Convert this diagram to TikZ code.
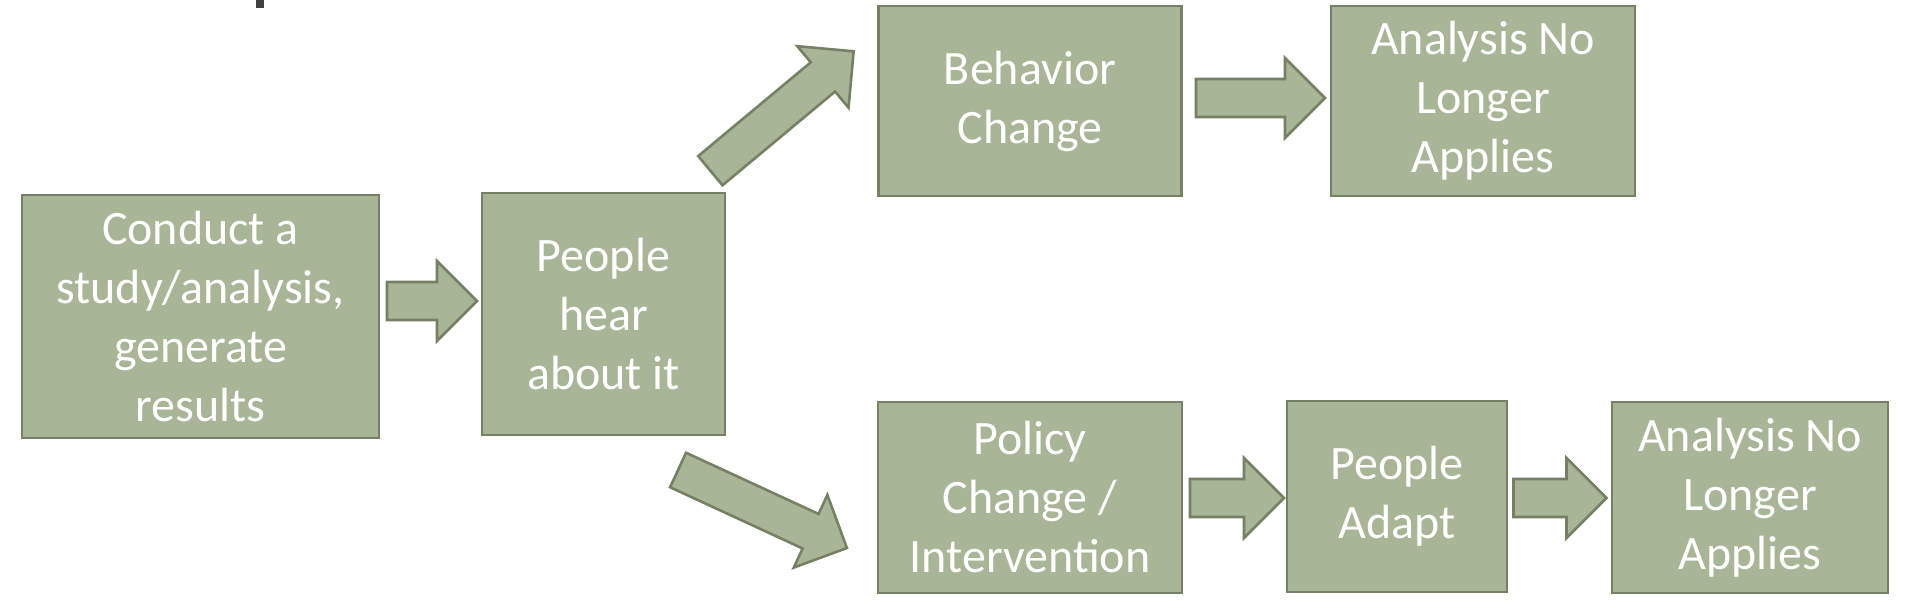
\documentclass[tikz,border=0pt]{standalone}
\usepackage{fontspec}
\setmainfont{Carlito}

\definecolor{sage}{RGB}{168,181,150}
\definecolor{sageline}{RGB}{118,128,100}

\begin{document}
\begin{tikzpicture}[x=0.5pt, y=0.5pt,
  box/.style={draw=sageline, line width=1.3pt, fill=sage, text=white, align=center, inner sep=0pt, font=\fontsize{24}{29.5}\selectfont},
  fatarrow/.style={draw=sageline, line width=1.3pt, fill=sage}]
              \useasboundingbox (0,0) rectangle (1906,602);
              \fill[black!75] (256,594) rectangle (264,602);

              % Nodos
              \node[box, minimum width=178.5pt, minimum height=121.5pt] (conduct) at (200.5,285.5) {Conduct a\\study/analysis,\\generate\\results};
              \node[box, minimum width=121.5pt, minimum height=121pt] (hear) at (603.5,288) {People\\hear\\about it};
              \node[box, minimum width=151.5pt, minimum height=95pt] (behavior) at (1030,501) {Behavior\\Change};
              \node[box, minimum width=152pt, minimum height=95pt] (noapply1) at (1483,501) {Analysis No\\Longer\\Applies};
              \node[box, minimum width=152pt, minimum height=95.5pt] (policy) at (1030,104.5) {Policy\\Change /\\Intervention};
              \node[box, minimum width=110pt, minimum height=95.5pt] (adapt) at (1397,105.5) {People\\Adapt};
              \node[box, minimum width=138pt, minimum height=95.5pt] (noapply2) at (1750,104.5) {Analysis No\\Longer\\Applies};

              % Flechas
              \draw[fatarrow, shift={(432,301)}] (-45,-19) -- (5,-19) -- (5,-40) -- (45,0) -- (5,40) -- (5,19) -- (-45,19) -- cycle;
              \draw[fatarrow, shift={(782,491)}, rotate=39.8] (-93.25,-19) -- (53.25,-19) -- (53.25,-40) -- (93.25,0) -- (53.25,40) -- (53.25,19) -- (-93.25,19) -- cycle;
              \draw[fatarrow, shift={(762.5,93)}, rotate=-24.8] (-93,-19) -- (53,-19) -- (53,-40) -- (93,0) -- (53,40) -- (53,19) -- (-93,19) -- cycle;
              \draw[fatarrow, shift={(1260.5,504)}] (-64.5,-19) -- (24.5,-19) -- (24.5,-40) -- (64.5,0) -- (24.5,40) -- (24.5,19) -- (-64.5,19) -- cycle;
              \draw[fatarrow, shift={(1237,104)}] (-47,-19) -- (7,-19) -- (7,-40) -- (47,0) -- (7,40) -- (7,19) -- (-47,19) -- cycle;
              \draw[fatarrow, shift={(1560,104)}] (-46.5,-19) -- (6.5,-19) -- (6.5,-40) -- (46.5,0) -- (6.5,40) -- (6.5,19) -- (-46.5,19) -- cycle;
            \end{tikzpicture}
\end{document}
